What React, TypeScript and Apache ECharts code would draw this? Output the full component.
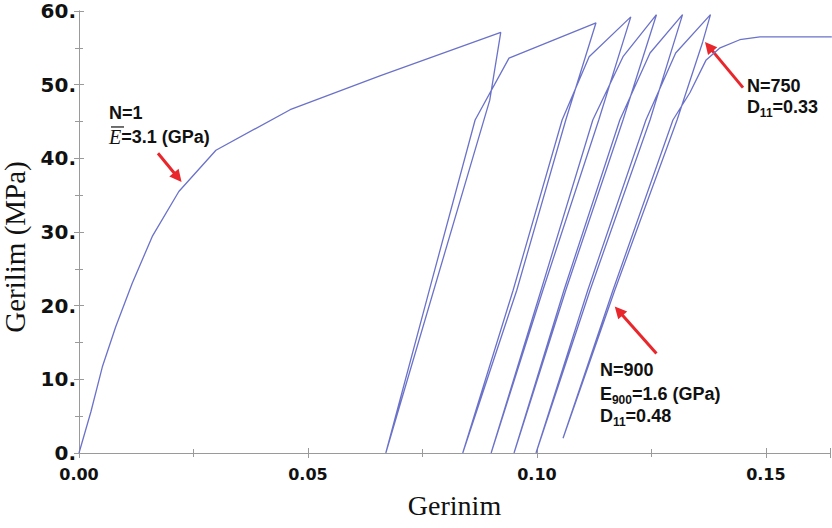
import React, { useEffect, useRef } from "react";
import * as echarts from "echarts";

// Stress–strain branches: [strain (Gerinim), stress MPa (Gerilim)]
const loading1 = [[0, 0], [0.0026, 5.6], [0.0051, 11.7], [0.008, 17.1], [0.0116, 23.0], [0.016, 29.4], [0.0218, 35.5], [0.0299, 41.1], [0.0461, 46.6], [0.0657, 51.2], [0.0921, 57.1]];
const unload1 = [[0.0921, 57.1], [0.0897, 47.9], [0.067, 0]];
const reload2 = [[0.067, 0], [0.0771, 23.5], [0.0865, 45.2], [0.0939, 53.6], [0.1129, 58.4]];
const unload2 = [[0.1129, 58.4], [0.1063, 45.2], [0.0956, 22.1], [0.0838, 0]];
const reload3 = [[0.0838, 0], [0.0948, 22.1], [0.1055, 45.2], [0.1114, 53.8], [0.1205, 59.2]];
const unload3 = [[0.1205, 59.2], [0.1135, 45.2], [0.1013, 22.1], [0.09, 0]];
const reload4 = [[0.09, 0], [0.1009, 22.1], [0.1122, 45.2], [0.1188, 53.8], [0.1261, 59.5]];
const unload4 = [[0.1261, 59.5], [0.1188, 45.2], [0.1063, 22.1], [0.095, 0]];
const reload5 = [[0.095, 0], [0.1059, 22.1], [0.1181, 45.2], [0.1247, 54.3], [0.1318, 59.5]];
const unload5 = [[0.1318, 59.5], [0.1247, 45.2], [0.1116, 22.1], [0.0998, 0]];
const reload6 = [[0.0998, 0], [0.1111, 22.1], [0.1238, 45.2], [0.1303, 54.3], [0.1379, 59.5]];
const unload6 = [[0.1379, 59.5], [0.1362, 55.8], [0.1306, 45.2], [0.117, 22.1], [0.1057, 2.0]];
const cycle900 = [[0.1057, 2.0], [0.1166, 22.1], [0.1297, 45.2], [0.1334, 48.9], [0.1369, 53.3], [0.14, 55.0], [0.1443, 56.1], [0.1487, 56.5], [0.1644, 56.5]];

const branches = [loading1, unload1, reload2, unload2, reload3, unload3, reload4, unload4, reload5, unload5, reload6, unload6, cycle900];

const xTitle = "Gerinim";
const yTitle = "Gerilim (MPa)";

// annotation anchors in data coordinates
const arrow1 = { tail: [0.01725, 40.7], head: [0.0224, 36.8] };
const arrow750 = { tail: [0.145, 49.6], head: [0.1367, 55.8] };
const arrow900 = { tail: [0.1261, 13.5], head: [0.117, 19.9] };

const labelN1 = { pos: [0.00655, 46.15], text: "N=1" };
const labelE1 = { pos: [0.00655, 42.9], text: "{e|E}=3.1 (GPa)" };
const labelN750 = { pos: [0.14585, 49.8], text: "N=750" };
const labelD750 = { pos: [0.14585, 46.97], text: "D{s|11}=0.33" };
const labelN900 = { pos: [0.11376, 11.27], text: "N=900" };
const labelE900 = { pos: [0.11376, 8.0], text: "E{s|900}=1.6 (GPa)" };
const labelD900 = { pos: [0.11376, 5.02], text: "D{s|11}=0.48" };

export default function App() {
  const ref = useRef<HTMLDivElement>(null);
  useEffect(() => {
    if (!ref.current) return;
    const chart = echarts.init(ref.current, null, { renderer: "svg" });
    const data: number[][] = [];
    branches.forEach((b, i) => {
      (i === 0 ? b : b.slice(1)).forEach((p) => data.push(p));
    });
    const frame = "#9a9a9a";
    const tickCommon = {
      axisLine: { show: true, lineStyle: { color: frame, width: 1 } },
      axisTick: { show: true, inside: true, length: 5, lineStyle: { color: frame } },
      minorTick: { show: true, splitNumber: 2, length: 4, lineStyle: { color: frame } },
      splitLine: { show: false },
      minorSplitLine: { show: false },
    };
    chart.setOption({
      animation: false,
      backgroundColor: "#ffffff",
      grid: { left: 79, top: 11, right: 2, bottom: 75, outerBoundsMode: "none", containLabel: false },
      xAxis: [
        {
          type: "value", min: 0, max: 0.164, interval: 0.05, position: "bottom",
          ...tickCommon,
          axisLabel: {
            showMaxLabel: false, margin: 13,
            formatter: (v: number) => v.toFixed(2),
            fontFamily: "DejaVu Sans", fontWeight: "bold", fontSize: 16, color: "#111",
          },
          name: xTitle, nameLocation: "middle", nameGap: 38,
          nameTextStyle: { fontFamily: "Liberation Serif", fontSize: 28, color: "#111" },
        },
        {
          type: "value", min: 0, max: 0.164, interval: 0.05, position: "top",
          ...tickCommon, axisLabel: { show: false },
        },
      ],
      yAxis: [
        {
          type: "value", min: 0, max: 60, interval: 10, position: "left",
          ...tickCommon,
          axisLabel: {
            margin: 3,
            formatter: (v: number) => `${v}.`,
            fontFamily: "DejaVu Sans", fontWeight: "bold", fontSize: 20, color: "#111",
          },
          name: yTitle, nameLocation: "middle", nameGap: 45,
          nameTextStyle: { fontFamily: "Liberation Serif", fontSize: 29, color: "#111", padding: [0, 30, 0, 0] },
        },
        {
          type: "value", min: 0, max: 60, interval: 10, position: "right",
          ...tickCommon, axisLabel: { show: false },
        },
      ],
      series: [
        {
          type: "line", name: "Gerilim", data, showSymbol: false, smooth: false,
          lineStyle: { color: "#6b72c9", width: 1.3 }, silent: true,
        },
      ],
    });

    const px = (p: number[]) => chart.convertToPixel({ xAxisIndex: 0, yAxisIndex: 0 }, p) as number[];
    const red = "#e8262b";
    const makeArrow = (a: { tail: number[]; head: number[] }) => {
      const t = px(a.tail);
      const h = px(a.head);
      const dx = h[0] - t[0], dy = h[1] - t[1];
      const len = Math.sqrt(dx * dx + dy * dy);
      const ux = dx / len, uy = dy / len;
      const hl = 12, hw = 6;
      const bx = h[0] - ux * hl, by = h[1] - uy * hl;
      const nx = -uy, ny = ux;
      return [
        { type: "line", shape: { x1: t[0], y1: t[1], x2: bx + ux * 2, y2: by + uy * 2 }, style: { stroke: red, lineWidth: 3 } },
        { type: "polygon", shape: { points: [[h[0], h[1]], [bx + nx * hw, by + ny * hw], [bx - nx * hw, by - ny * hw]] }, style: { fill: red } },
      ];
    };
    const rich = {
      s: { fontFamily: "Liberation Sans", fontWeight: "bold", fontSize: 12, lineHeight: 12, verticalAlign: "bottom", fill: "#111" },
      e: { fontFamily: "Liberation Serif", fontStyle: "italic", fontWeight: "normal", fontSize: 20, fill: "#111" },
    };
    const makeText = (l: { pos: number[]; text: string }) => {
      const p = px(l.pos);
      return {
        type: "text", x: p[0], y: p[1],
        style: {
          text: l.text, rich,
          fontFamily: "Liberation Sans", fontWeight: "bold", fontSize: 18, lineHeight: 24,
          fill: "#111", align: "left", verticalAlign: "middle",
        },
      };
    };
    const eP = px(labelE1.pos);
    const graphics: any[] = [
      ...makeArrow(arrow1), ...makeArrow(arrow750), ...makeArrow(arrow900),
      makeText(labelN1), makeText(labelE1), makeText(labelN750), makeText(labelD750),
      makeText(labelN900), makeText(labelE900), makeText(labelD900),
      { type: "line", shape: { x1: eP[0] + 2, y1: eP[1] - 10, x2: eP[0] + 15, y2: eP[1] - 10 }, style: { stroke: "#111", lineWidth: 1.2 } },
    ];
    chart.setOption({ graphic: graphics });
    return () => chart.dispose();
  }, []);
  return <div ref={ref} style={{ width: 832, height: 528, position: "absolute", left: 0, top: 0 }} />;
}
